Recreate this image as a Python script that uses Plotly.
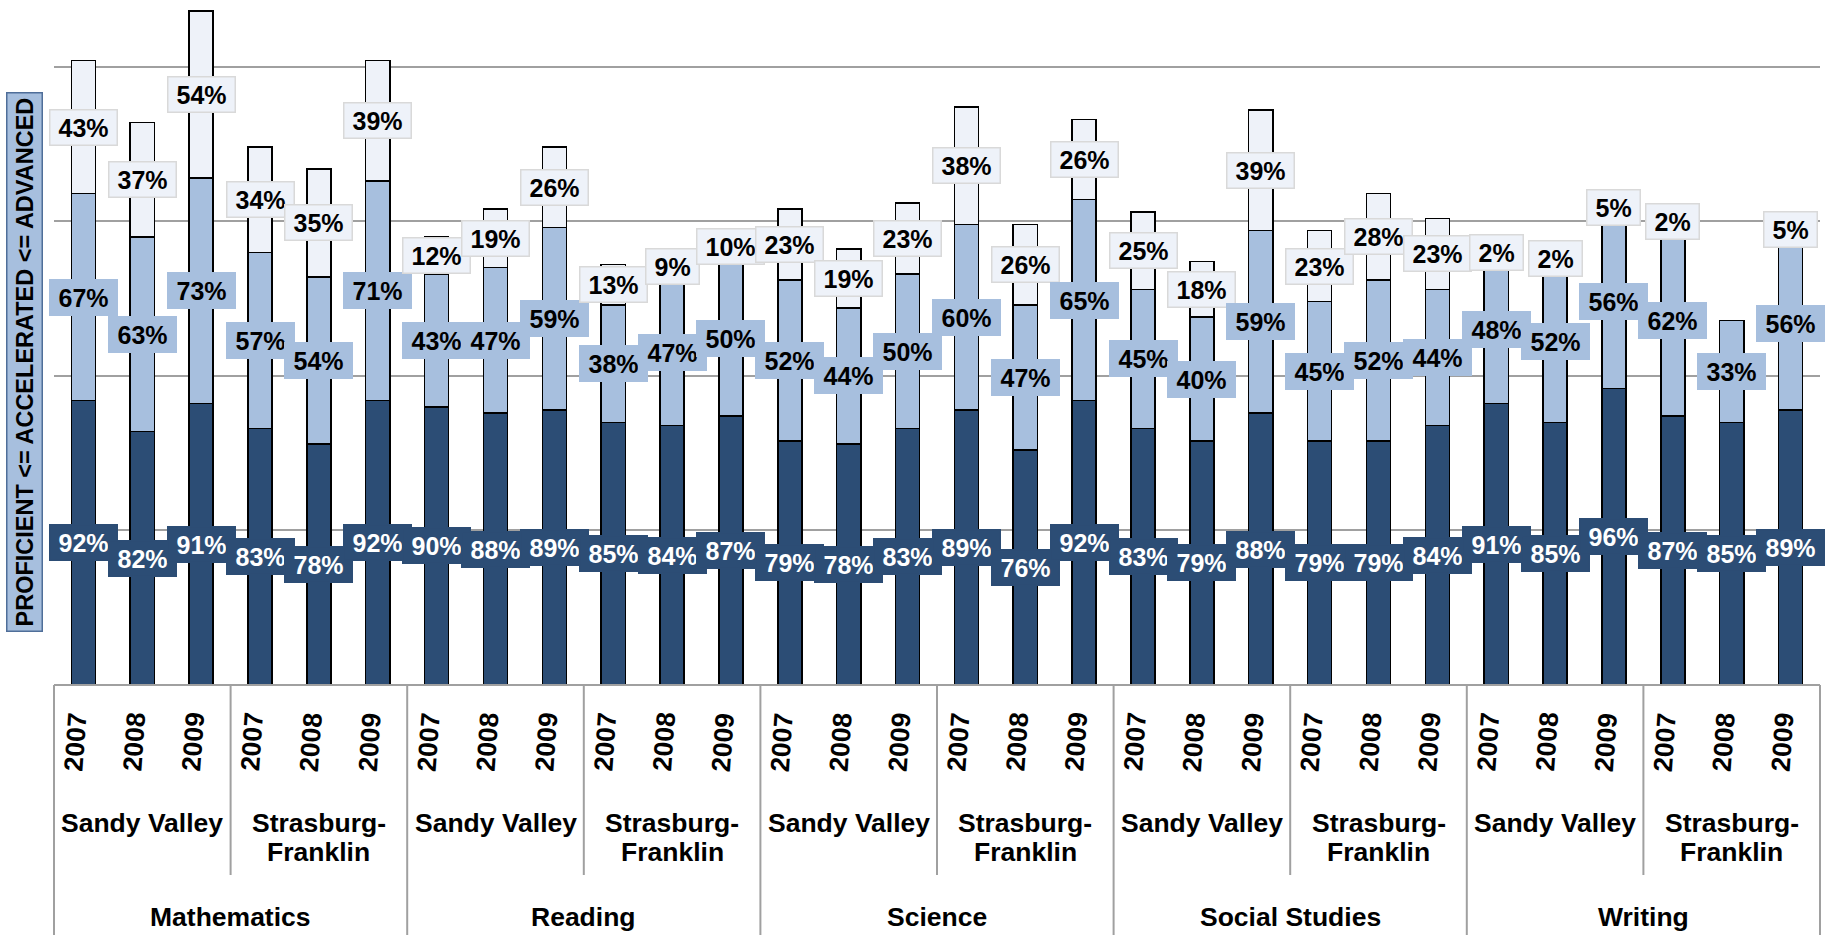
import plotly.graph_objects as go

subjects = ["Mathematics", "Reading", "Science", "Social Studies", "Writing"]
districts = ["Sandy Valley", "Strasburg-<br>Franklin"]
years = ["2007", "2008", "2009"]

# order: subject -> district -> year
proficient = [92, 82, 91, 83, 78, 92,
              90, 88, 89, 85, 84, 87,
              79, 78, 83, 89, 76, 92,
              83, 79, 88, 79, 79, 84,
              91, 85, 96, 87, 85, 89]
accelerated = [67, 63, 73, 57, 54, 71,
               43, 47, 59, 38, 47, 50,
               52, 44, 50, 60, 47, 65,
               45, 40, 59, 45, 52, 44,
               48, 52, 56, 62, 33, 56]
advanced = [43, 37, 54, 34, 35, 39,
            12, 19, 26, 13, 9, 10,
            23, 19, 23, 38, 26, 26,
            25, 18, 39, 23, 28, 23,
            2, 2, 5, 2, None, 5]

DARK = "#2C4D75"
LIGHT = "#A7BFDE"
LIGHTEST = "#EEF2F9"
GRID = "#A0A0A0"
FONT = "Liberation Sans, Arial, sans-serif"

W, H = 1829, 935
ML, MR, MT, MB = 54, 9, 5, 250
PW, PH = W - ML - MR, H - MT - MB

n = len(proficient)
xs = list(range(n))

fig = go.Figure()
for vals, col in [(proficient, DARK), (accelerated, LIGHT), (advanced, LIGHTEST)]:
    fig.add_trace(go.Bar(
        x=xs, y=[v if v is not None else 0 for v in vals],
        marker=dict(color=col, line=dict(color="#000000", width=1.5)),
        width=0.41, showlegend=False, hoverinfo="skip"))

LBL = 25
annotations = []
for i in xs:
    base = 0
    for vals, bg, fg, border in [(proficient, DARK, "white", DARK),
                                 (accelerated, LIGHT, "black", LIGHT),
                                 (advanced, LIGHTEST, "black", "#D9D9D9")]:
        v = vals[i]
        if v is None:
            continue
        txt = f"{v}%"
        tw = (len(txt) - 1) * 0.556 * LBL + 0.889 * LBL
        annotations.append(dict(
            x=i, y=base + v / 2, xref="x", yref="y",
            text=f"<b>{txt}</b>", showarrow=False,
            font=dict(family=FONT, size=LBL, color=fg),
            width=tw + 12, height=30, align="center", valign="middle",
            bgcolor=bg, bordercolor=border, borderwidth=1.5, borderpad=2,
            xanchor="center", yanchor="middle"))
        base += v

# multi-level category labels
for i in xs:
    annotations.append(dict(
        x=i, y=0, xref="x", yref="paper", text=f"<b>{years[i % 3]}</b>",
        textangle=-86, showarrow=False, xshift=-8, yshift=-57,
        font=dict(family=FONT, size=26.5, color="black"),
        xanchor="center", yanchor="middle"))
for g in range(n // 3):
    for k, line in enumerate(districts[g % 2].split("<br>")):
        annotations.append(dict(
            x=g * 3 + 1, y=0, xref="x", yref="paper",
            text=f"<b>{line}</b>", showarrow=False, yshift=-(823 - 685) - 29 * k,
            font=dict(family=FONT, size=26.5, color="black"),
            xanchor="center", yanchor="middle", align="center"))
for s in range(len(subjects)):
    annotations.append(dict(
        x=s * 6 + 2.5, y=0, xref="x", yref="paper",
        text=f"<b>{subjects[s]}</b>", showarrow=False, yshift=-232,
        font=dict(family=FONT, size=26.5, color="black"),
        xanchor="center", yanchor="middle"))

# y-axis title box
annotations.append(dict(
    x=(24 - ML) / PW, y=(H - MB - 362) / PH, xref="paper", yref="paper",
    showarrow=False,
    text="<b>PROFICIENT &lt;= ACCELERATED &lt;= ADVANCED</b>", textangle=-90,
    font=dict(family=FONT, size=23.5, color="black"),
    bgcolor=LIGHT, bordercolor="#4F6E99", borderwidth=1.5, borderpad=4,
    xanchor="center", yanchor="middle"))

shapes = []
def px(idx):
    return (idx + 0.5) / n
ybottom = -(H - MT - PH) / PH - 0.05
ydist = -(875 - (MT + PH)) / PH
shapes.append(dict(type="line", xref="paper", yref="paper", x0=0, x1=1, y0=0, y1=0,
                   line=dict(color=GRID, width=2)))
for s in range(len(subjects) + 1):
    xb = px(s * 6 - 0.5)
    shapes.append(dict(type="line", xref="paper", yref="paper", x0=xb, x1=xb,
                       y0=0, y1=ybottom, line=dict(color=GRID, width=2)))
for s in range(len(subjects)):
    xb = px(s * 6 + 2.5)
    shapes.append(dict(type="line", xref="paper", yref="paper", x0=xb, x1=xb,
                       y0=0, y1=ydist, line=dict(color=GRID, width=2)))

fig.update_layout(
    width=W, height=H, barmode="stack",
    margin=dict(l=ML, r=MR, t=MT, b=MB),
    paper_bgcolor="white", plot_bgcolor="white",
    xaxis=dict(range=[-0.5, n - 0.5], showticklabels=False, showgrid=False,
               zeroline=False, showline=False, ticks=""),
    yaxis=dict(range=[0, 220], tickvals=[50, 100, 150, 200], showticklabels=False,
               showgrid=True, gridcolor=GRID, gridwidth=2, zeroline=False,
               showline=False, ticks=""),
    annotations=annotations, shapes=shapes,
)
fig.write_html("out.html", config={"displayModeBar": False},
               post_script="document.body.style.margin='0px';document.body.style.overflow='hidden';")
